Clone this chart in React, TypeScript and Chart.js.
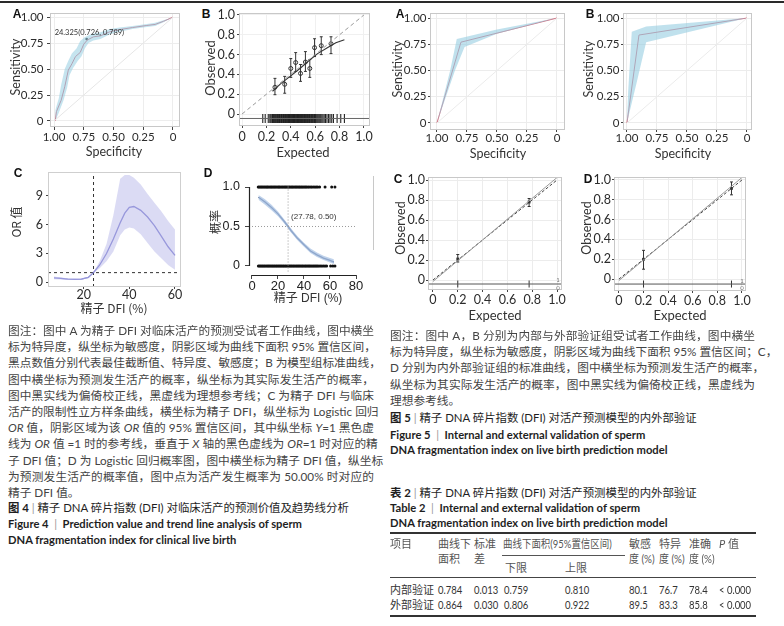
import React, { useEffect, useRef } from "react";
import { Chart, registerables } from "chart.js";

Chart.register(...registerables);

// ---------------- DATA ----------------
// Fig 4A ROC (specificity, sensitivity)
const roc4Spec = [0.99, 0.98, 0.94, 0.91, 0.88, 0.85, 0.82, 0.78, 0.75, 0.72, 0.67, 0.61, 0.53, 0.45, 0.34, 0.22, 0.15, 0.08, 0.0];
const roc4Sens = [0.0, 0.09, 0.2, 0.33, 0.49, 0.55, 0.62, 0.66, 0.74, 0.78, 0.81, 0.82, 0.86, 0.88, 0.9, 0.92, 0.93, 0.96, 1.0];
const roc4UpSpec = [0.99, 0.99, 0.96, 0.94, 0.91, 0.88, 0.85, 0.81, 0.78, 0.74, 0.68, 0.61, 0.53, 0.45, 0.34, 0.22, 0.15, 0.08, 0.0];
const roc4UpSens = [0.0, 0.1, 0.22, 0.35, 0.5, 0.58, 0.65, 0.7, 0.77, 0.81, 0.84, 0.855, 0.885, 0.9, 0.915, 0.935, 0.945, 0.97, 1.0];
const roc4LoSpec = [0.99, 0.96, 0.92, 0.89, 0.87, 0.84, 0.8, 0.77, 0.74, 0.71, 0.67, 0.61, 0.53, 0.45, 0.34, 0.22, 0.15, 0.08, 0.0];
const roc4LoSens = [0.0, 0.08, 0.2, 0.32, 0.44, 0.51, 0.58, 0.62, 0.7, 0.75, 0.775, 0.79, 0.835, 0.86, 0.885, 0.905, 0.915, 0.95, 1.0];
const roc4CutSpec = [0.726];
const roc4CutSens = [0.789];
const roc4CutLabel = "24.325(0.726, 0.789)";

// Fig 4B calibration
const calExp = [0.27, 0.35, 0.4, 0.44, 0.48, 0.52, 0.556, 0.595, 0.65, 0.73];
const calObs = [0.27, 0.3, 0.46, 0.52, 0.41, 0.525, 0.46, 0.67, 0.69, 0.71];
const calLo = [0.195, 0.21, 0.37, 0.43, 0.33, 0.43, 0.37, 0.58, 0.6, 0.61];
const calHi = [0.36, 0.38, 0.56, 0.62, 0.5, 0.63, 0.55, 0.76, 0.78, 0.78];
const biasX = [0.25, 0.32, 0.4, 0.48, 0.55, 0.62, 0.7, 0.77, 0.84];
const biasY = [0.23, 0.31, 0.385, 0.465, 0.54, 0.61, 0.67, 0.72, 0.75];
const calRug = [0.17, 0.19, 0.215, 0.228, 0.236, 0.245, 0.25, 0.257, 0.262, 0.268, 0.273, 0.279, 0.285, 0.29, 0.296, 0.301, 0.307, 0.312, 0.318, 0.324, 0.329, 0.335, 0.34, 0.346, 0.351, 0.356, 0.362, 0.367, 0.371, 0.376, 0.381, 0.386, 0.39, 0.395, 0.4, 0.404, 0.409, 0.413, 0.418, 0.422, 0.427, 0.431, 0.436, 0.441, 0.445, 0.45, 0.455, 0.459, 0.464, 0.468, 0.473, 0.478, 0.482, 0.487, 0.492, 0.497, 0.502, 0.507, 0.512, 0.517, 0.522, 0.527, 0.532, 0.538, 0.543, 0.548, 0.554, 0.559, 0.565, 0.571, 0.577, 0.583, 0.589, 0.595, 0.602, 0.608, 0.615, 0.622, 0.63, 0.638, 0.646, 0.655, 0.664, 0.674, 0.685, 0.697, 0.71, 0.722, 0.736, 0.75, 0.78, 0.81, 0.84];

// Fig 4C restricted cubic spline
const rcsX = [7, 10, 13, 16, 19, 22, 24.3, 27, 30, 33, 36, 38, 40, 42, 45, 48, 51, 54, 57, 60];
const rcsOR = [0.45, 0.4, 0.33, 0.3, 0.33, 0.5, 1.0, 1.8, 3.0, 4.5, 6.2, 7.2, 7.8, 7.9, 7.5, 6.8, 5.9, 4.8, 3.7, 2.8];
const rcsUp = [0.6, 0.5, 0.42, 0.38, 0.4, 0.58, 1.05, 2.2, 4.0, 7.0, 10.8, 11.2, 11.2, 10.9, 10.2, 9.2, 8.3, 7.4, 6.4, 5.5];
const rcsLo = [0.3, 0.28, 0.24, 0.22, 0.26, 0.42, 0.95, 1.45, 2.2, 3.2, 4.9, 5.5, 5.7, 5.6, 5.0, 4.1, 3.2, 2.5, 1.8, 1.3];
const rcsCut = 24.3;

// Fig 4D logistic probability
const logisX = [5, 10, 15, 20, 25, 27.78, 30, 35, 40, 45, 50, 55, 60, 63];
const logisP = [0.87, 0.81, 0.74, 0.66, 0.56, 0.5, 0.45, 0.35, 0.27, 0.19, 0.14, 0.1, 0.07, 0.05];
const logisUp = [0.9, 0.845, 0.775, 0.69, 0.585, 0.525, 0.475, 0.375, 0.295, 0.22, 0.17, 0.13, 0.1, 0.085];
const logisLo = [0.84, 0.775, 0.705, 0.63, 0.535, 0.475, 0.425, 0.325, 0.245, 0.165, 0.115, 0.075, 0.045, 0.025];
const dfiLive = [4.8, 5.6, 6.5, 7.3, 8.1, 9.0, 9.8, 10.7, 11.5, 12.2, 13.1, 14.0, 14.8, 15.6, 16.5, 17.3, 18.1, 19.0, 19.9, 20.7, 21.4, 22.3, 23.2, 24.0, 24.9, 25.7, 26.5, 27.4, 28.3, 29.1, 30.0, 30.8, 31.6, 32.5, 33.4, 34.2, 35.1, 36.0, 36.8, 37.7, 38.5, 39.4, 40.3, 41.2, 42.0, 43.1, 44.0, 45.2, 46.1, 47.3, 48.4, 49.5, 50.6, 52.0, 56.2, 61.3, 63.8];
const dfiNot = [4.9, 5.8, 6.6, 7.5, 8.3, 9.2, 10.0, 10.9, 11.8, 12.6, 13.4, 14.3, 15.2, 16.0, 16.9, 17.7, 18.6, 19.4, 20.3, 21.1, 22.0, 22.8, 23.7, 24.5, 25.4, 26.2, 27.1, 28.0, 28.8, 29.7, 30.5, 31.4, 32.2, 33.1, 34.0, 34.8, 35.7, 36.5, 37.4, 38.3, 39.1, 40.0, 40.9, 41.7, 42.6, 43.5, 44.3, 45.2, 46.1, 47.0, 47.9, 48.8, 49.7, 50.6, 51.6, 52.7, 53.8, 55.0, 56.2, 57.4, 60.5, 62.2, 63.8];
const logisMid = [27.78, 0.5];
const logisLabel = "(27.78, 0.50)";

// Fig 5A / 5B ROC
const roc5aSpec = [1.0, 0.8, 0.0];
const roc5aSens = [0.0, 0.77, 1.0];
const roc5aUpSpec = [1.0, 0.89, 0.835, 0.5, 0.0];
const roc5aUpSens = [0.0, 0.5, 0.8, 0.89, 1.0];
const roc5aLoSpec = [1.0, 0.85, 0.77, 0.5, 0.0];
const roc5aLoSens = [0.0, 0.5, 0.725, 0.85, 1.0];
const roc5bSpec = [1.0, 0.9, 0.0];
const roc5bSens = [0.0, 0.838, 1.0];
const roc5bUpSpec = [1.0, 0.99, 0.96, 0.84, 0.0];
const roc5bUpSens = [0.0, 0.3, 0.87, 0.92, 1.0];
const roc5bLoSpec = [1.0, 0.92, 0.84, 0.0];
const roc5bLoSens = [0.0, 0.38, 0.77, 1.0];

// Fig 5C / 5D calibration
const cal5cExp = [0.2, 0.775];
const cal5cObs = [0.21, 0.78];
const cal5cLo = [0.18, 0.735];
const cal5cHi = [0.255, 0.815];
const cal5dExp = [0.2, 0.915];
const cal5dObs = [0.2, 0.915];
const cal5dLo = [0.1, 0.85];
const cal5dHi = [0.29, 0.98];
const apparentX = [0.0, 1.0];
const apparentY = [-0.015, 1.025];
const idealX = [0.0, 1.0];
const idealY = [0.0, 1.0];

// ticks
const rocTicks = [0, 0.25, 0.5, 0.75, 1];
const calTicks = [0, 0.2, 0.4, 0.6, 0.8, 1.0];
const rcsXTicks = [20, 40, 60];
const rcsYTicks = [0, 3, 6, 9];
const logisXTicks = [0, 20, 40, 60, 80];
const logisYTicks = [0, 0.5, 1];

// ---------------- HELPERS ----------------
const LAT = "Lato, 'Noto Sans CJK SC', sans-serif";
const CJK = "'Noto Sans CJK SC', Lato, sans-serif";
const ARIAL = "'Liberation Sans', Arial, 'Noto Sans CJK SC', sans-serif";

type Box = { cx: number; cy: number; cw: number; ch: number; L: number; T: number; R: number; B: number };
type AxisSpec = {
  min: number; max: number; ticks: number[]; fmt: (v: number) => string; reverse?: boolean;
  size: number; family?: string; tl: number; pad: number; grid?: string | null; color?: string;
};

const fmt2 = (v: number) => (v === 0 ? "0" : v.toFixed(2));
const fmt1 = (v: number) => (v === 0 ? "0" : v.toFixed(1));
const fmt0 = (v: number) => String(v);

function axes(box: Box, x: AxisSpec, y: AxisSpec) {
  const mk = (a: AxisSpec, horiz: boolean) => ({
    type: "linear",
    min: a.min,
    max: a.max,
    reverse: !!a.reverse,
    afterBuildTicks: (s: any) => {
      s.ticks = a.ticks.map((v) => ({ value: v }));
    },
    afterFit: (s: any) => {
      if (horiz) s.height = box.cy + box.ch - box.B;
      else s.width = box.L - box.cx;
    },
    ticks: {
      autoSkip: false,
      maxRotation: 0,
      minRotation: 0,
      padding: a.pad,
      color: a.color || "#2b2b2b",
      font: { size: a.size, family: a.family || LAT, lineHeight: 1 },
      callback: (v: any) => a.fmt(Number(v)),
    },
    grid: {
      display: true,
      drawOnChartArea: !!a.grid,
      color: a.grid || "rgba(0,0,0,0)",
      tickColor: "#444",
      tickLength: a.tl,
      drawTicks: a.tl > 0,
      lineWidth: 1,
    },
    border: { display: false },
  });
  return { x: mk(x, true), y: mk(y, false) };
}

function baseOpts(box: Box, scales: any) {
  return {
    responsive: false,
    maintainAspectRatio: false,
    animation: false,
    events: [],
    layout: { padding: { left: 0, top: box.T - box.cy, right: box.cx + box.cw - box.R, bottom: 0 } },
    plugins: { legend: { display: false }, tooltip: { enabled: false }, title: { display: false } },
    scales,
    elements: { point: { radius: 0 }, line: { tension: 0 } },
  };
}

const pts = (xs: number[], ys: (number | null)[]) => xs.map((x, i) => ({ x, y: ys[i] }));

function lineDs(data: any[], color: string, width = 1, dash: number[] = [], extra: any = {}) {
  return { type: "line", data, borderColor: color, borderWidth: width, borderDash: dash, pointRadius: 0, fill: false, tension: 0, ...extra };
}

function bandDs(upper: any[], lower: any[], color: string) {
  return [
    { type: "line", data: upper, borderWidth: 0, borderColor: "rgba(0,0,0,0)", pointRadius: 0, fill: false },
    { type: "line", data: lower, borderWidth: 0, borderColor: "rgba(0,0,0,0)", backgroundColor: color, pointRadius: 0, fill: "-1" },
  ];
}

function errorBars(xs: number[], lo: number[], hi: number[], cap: number) {
  const d: any[] = [];
  xs.forEach((x, i) => {
    d.push({ x, y: lo[i] }, { x, y: hi[i] }, { x, y: null });
    d.push({ x: x - cap, y: lo[i] }, { x: x + cap, y: lo[i] }, { x, y: null });
    d.push({ x: x - cap, y: hi[i] }, { x: x + cap, y: hi[i] }, { x, y: null });
  });
  return d;
}

const framePlugin = (color: string) => ({
  id: "frame",
  afterDatasetsDraw(chart: any) {
    const { ctx, chartArea: a } = chart;
    ctx.save();
    ctx.strokeStyle = color;
    ctx.lineWidth = 1;
    ctx.strokeRect(a.left + 0.5, a.top + 0.5, a.right - a.left - 1, a.bottom - a.top - 1);
    ctx.restore();
  },
});

function ChartPanel({ box, make }: { box: Box; make: (b: Box) => any }) {
  const ref = useRef<HTMLCanvasElement>(null);
  useEffect(() => {
    const chart = new Chart(ref.current as HTMLCanvasElement, make(box));
    return () => chart.destroy();
  }, []);
  return (
    <canvas
      ref={ref}
      width={box.cw}
      height={box.ch}
      style={{ position: "absolute", left: box.cx, top: box.cy, width: box.cw, height: box.ch }}
    />
  );
}

// ---------------- CHART CONFIGS ----------------
const box4A: Box = { cx: 20, cy: 0, cw: 170, ch: 150, L: 50, T: 13, R: 180, B: 127 };
function make4A(box: Box) {
  const scales = axes(
    box,
    { min: -0.059, max: 1.034, reverse: true, ticks: rocTicks, fmt: fmt2, size: 11.5, tl: 3, pad: 1.5, grid: "#ededed" },
    { min: -0.058, max: 1.04, ticks: rocTicks, fmt: fmt2, size: 11.5, tl: 3, pad: 3.5, grid: "#ededed" }
  );
  const up = pts(roc4UpSpec, roc4UpSens);
  const lo = pts(roc4LoSpec, roc4LoSens);
  return {
    type: "line",
    data: {
      datasets: [
        lineDs(pts([1, 0], [0, 1]), "#e6e6e6", 1),
        ...bandDs(up, lo, "rgba(150,205,225,0.55)"),
        lineDs(pts(roc4Spec, roc4Sens), "#d46a7a", 1),
        lineDs(pts(roc4CutSpec, roc4CutSens), "#222", 0, [], { showLine: false, pointRadius: 1.3, pointBackgroundColor: "#222", pointBorderWidth: 0 }),
      ],
    },
    options: baseOpts(box, scales),
    plugins: [
      framePlugin("#c8c8c8"),
      {
        id: "cutLabel",
        afterDatasetsDraw(chart: any) {
          const { ctx, scales: s } = chart;
          const px = s.x.getPixelForValue(roc4CutSpec[0]);
          const py = s.y.getPixelForValue(roc4CutSens[0]);
          ctx.save();
          ctx.font = "7.5px " + LAT;
          ctx.fillStyle = "#333";
          ctx.textBaseline = "middle";
          ctx.fillText(roc4CutLabel, px - 32, py - 6);
          ctx.restore();
        },
      },
    ],
  };
}

const box4B: Box = { cx: 212, cy: 0, cw: 168, ch: 148, L: 239, T: 13, R: 370, B: 126 };
function make4B(box: Box) {
  const scales = axes(
    box,
    { min: -0.025, max: 1.05, ticks: calTicks, fmt: fmt1, size: 12.5, tl: 2, pad: 3, grid: "#f0f0f0" },
    { min: -0.121, max: 1.02, ticks: calTicks, fmt: fmt1, size: 12.5, tl: 2, pad: 2, grid: "#f0f0f0" }
  );
  return {
    type: "line",
    data: {
      datasets: [
        lineDs(pts(idealX, idealY), "#999", 1, [4, 3]),
        lineDs(pts(biasX, biasY), "#333", 1.1),
        lineDs(errorBars(calExp, calLo, calHi, 0.012), "#333", 1),
        lineDs(pts(calExp, calObs), "#333", 0, [], { showLine: false, pointRadius: 2, pointBackgroundColor: "rgba(0,0,0,0)", pointBorderColor: "#333", pointBorderWidth: 1 }),
        lineDs(pts([-0.025, 1.05], [-0.045, -0.045]), "#666", 1),
        lineDs(calRug.map((x) => ({ x, y: -0.045 })), "#222", 0, [], {
          showLine: false, pointStyle: "line", pointRotation: 90, pointRadius: 4.5, pointBorderColor: "#222", pointBorderWidth: 1.1,
        }),
      ],
    },
    options: baseOpts(box, scales),
    plugins: [framePlugin("#c8c8c8")],
  };
}

const box4C: Box = { cx: 20, cy: 160, cw: 170, ch: 150, L: 48, T: 172, R: 181, B: 287 };
function make4C(box: Box) {
  const scales = axes(
    box,
    { min: 4.35, max: 62.65, ticks: rcsXTicks, fmt: fmt0, size: 12.5, tl: 2, pad: 0 },
    { min: -0.5, max: 11.5, ticks: rcsYTicks, fmt: fmt0, size: 12.5, tl: 2, pad: 3 }
  );
  return {
    type: "line",
    data: {
      datasets: [
        ...bandDs(pts(rcsX, rcsUp), pts(rcsX, rcsLo), "rgba(190,190,235,0.55)"),
        lineDs(pts(rcsX, rcsOR), "#6b6bc9", 1.3),
        lineDs(pts([4.35, 62.65], [1, 1]), "#333", 1, [3, 3]),
        lineDs(pts([rcsCut, rcsCut], [-0.5, 11.5]), "#333", 1, [3, 3]),
      ],
    },
    options: baseOpts(box, scales),
    plugins: [framePlugin("#cfcfcf")],
  };
}

const box4D: Box = { cx: 212, cy: 165, cw: 158, ch: 135, L: 249, T: 187, R: 356, B: 275 };
function make4D(box: Box) {
  const scales = axes(
    box,
    { min: -2.3, max: 80, ticks: logisXTicks, fmt: fmt0, size: 13, family: ARIAL, tl: 4, pad: 0.5, color: "#222" },
    { min: -0.114, max: 1.0, ticks: logisYTicks, fmt: fmt1, size: 12.5, family: ARIAL, tl: 4, pad: 5, color: "#222" }
  );
  return {
    type: "line",
    data: {
      datasets: [
        lineDs(pts([logisMid[0], logisMid[0]], [-0.07, 1.03]), "#9a9a9a", 1, [1, 2], { clip: false }),
        lineDs(pts([-2.3, 80], [logisMid[1], logisMid[1]]), "#9a9a9a", 1, [1, 2]),
        ...bandDs(pts(logisX, logisUp), pts(logisX, logisLo), "rgba(170,195,228,0.75)"),
        lineDs(pts(logisX, logisP), "#3d5282", 1.4),
        lineDs(dfiLive.map((x) => ({ x, y: 1 })), "#111", 0, [], { showLine: false, pointRadius: 1.5, pointBackgroundColor: "#111", pointBorderWidth: 0, clip: false }),
        lineDs(dfiNot.map((x) => ({ x, y: 0 })), "#111", 0, [], { showLine: false, pointRadius: 1.5, pointBackgroundColor: "#111", pointBorderWidth: 0, clip: false }),
      ],
    },
    options: baseOpts(box, scales),
    plugins: [
      {
        id: "prismAxes",
        afterDatasetsDraw(chart: any) {
          const { ctx, scales: s, chartArea: a } = chart;
          ctx.save();
          ctx.strokeStyle = "#222";
          ctx.lineWidth = 1.2;
          ctx.beginPath();
          ctx.moveTo(a.left + 0.5, s.y.getPixelForValue(0));
          ctx.lineTo(a.left + 0.5, s.y.getPixelForValue(1));
          ctx.moveTo(s.x.getPixelForValue(0), a.bottom + 0.5);
          ctx.lineTo(s.x.getPixelForValue(80), a.bottom + 0.5);
          ctx.stroke();
          ctx.font = "8px " + ARIAL;
          ctx.fillStyle = "#333";
          ctx.textBaseline = "middle";
          ctx.fillText(logisLabel, s.x.getPixelForValue(logisMid[0]) + 3, s.y.getPixelForValue(logisMid[1]) - 10);
          ctx.restore();
        },
      },
    ],
  };
}

function makeRoc5(box: Box, spec: number[], sens: number[], upS: number[], upY: number[], loS: number[], loY: number[], xmin: number, xmax: number) {
  const scales = axes(
    box,
    { min: xmin, max: xmax, reverse: true, ticks: rocTicks, fmt: fmt2, size: 11.5, tl: 2, pad: 0.5, grid: "#ececec" },
    { min: -0.067, max: 1.048, ticks: rocTicks, fmt: fmt2, size: 11.5, tl: 2, pad: 1.5, grid: "#ececec" }
  );
  return {
    type: "line",
    data: {
      datasets: [
        lineDs(pts([1, 0], [0, 1]), "#ebebeb", 1),
        ...bandDs(pts(upS, upY), pts(loS, loY), "rgba(150,205,225,0.6)"),
        lineDs(pts(spec, sens), "#d46a7a", 1),
      ],
    },
    options: baseOpts(box, scales),
    plugins: [framePlugin("#c8c8c8")],
  };
}

const box5A: Box = { cx: 398, cy: 0, cw: 177, ch: 150, L: 430, T: 13, R: 565, B: 130 };
const box5B: Box = { cx: 592, cy: 0, cw: 171, ch: 150, L: 623, T: 13, R: 752, B: 130 };

function makeCal5(box: Box, ex: number[], ob: number[], lo: number[], hi: number[], xmin: number, xmax: number, ymin: number, rugY: number) {
  const scales = axes(
    box,
    { min: xmin, max: xmax, ticks: calTicks, fmt: fmt1, size: 12.5, tl: 2, pad: 1.5, grid: "#ececec" },
    { min: ymin, max: 1.03, ticks: calTicks, fmt: fmt1, size: 12.5, tl: 2, pad: 1, grid: "#ececec" }
  );
  return {
    type: "line",
    data: {
      datasets: [
        lineDs(pts(apparentX, apparentY), "#9a9a9a", 1),
        lineDs(pts(idealX, idealY), "#444", 1, [3, 2]),
        lineDs(errorBars(ex, lo, hi, 0.012), "#333", 1),
        lineDs(pts(ex, ob), "#333", 0, [], { showLine: false, pointRadius: 2, pointStyle: "rect", pointBackgroundColor: "#333", pointBorderWidth: 0 }),
        lineDs(pts([xmin, xmax], [rugY, rugY]), "#555", 1),
        lineDs(ex.map((x) => ({ x, y: rugY })), "#333", 0, [], {
          showLine: false, pointStyle: "line", pointRotation: 90, pointRadius: 3.5, pointBorderColor: "#333", pointBorderWidth: 1,
        }),
      ],
    },
    options: baseOpts(box, scales),
    plugins: [framePlugin("#c8c8c8")],
  };
}

const box5C: Box = { cx: 398, cy: 165, cw: 174, ch: 145, L: 428, T: 177, R: 562, B: 290 };
const box5D: Box = { cx: 588, cy: 165, cw: 168, ch: 145, L: 614, T: 177, R: 746, B: 291 };

// ---------------- TEXT ----------------
type TxtProps = {
  x: number; y: number; children: React.ReactNode; size?: number; family?: string; weight?: number;
  color?: string; anchor?: "middle" | "start"; rotate?: boolean; sx?: number; style?: React.CSSProperties;
};
function Txt({ x, y, children, size = 12, family = LAT, weight = 400, color = "#333", anchor = "middle", rotate = false, sx = 1, style }: TxtProps) {
  const transform = rotate
    ? "translate(-50%,-50%) rotate(-90deg)"
    : anchor === "middle"
    ? "translate(-50%,-50%)"
    : `translateY(-50%) scaleX(${sx})`;
  return (
    <div
      style={{
        position: "absolute", left: x, top: y, transform, transformOrigin: anchor === "start" && !rotate ? "left center" : "center",
        fontSize: size, fontFamily: family, fontWeight: weight, color, lineHeight: 1, whiteSpace: "nowrap", ...style,
      }}
    >
      {children}
    </div>
  );
}

function rich(text: string) {
  return text.split("*").map((seg, i) => (i % 2 === 1 ? <i key={i}>{seg}</i> : <span key={i}>{seg}</span>));
}

function CapLine({ x, y, w, text, justify = true, size = 11.7, color = "#444", weight = 400 }: { x: number; y: number; w: number; text: string; justify?: boolean; size?: number; color?: string; weight?: number }) {
  return (
    <div
      style={{
        position: "absolute", left: x, top: y - 8, width: w, height: 16, lineHeight: "16px", fontSize: size,
        fontFamily: LAT, color, fontWeight: weight, whiteSpace: "nowrap",
        textAlign: justify ? "justify" : "left", textAlignLast: justify ? "justify" : "left",
      }}
    >
      {rich(text)}
    </div>
  );
}

function TitleLine({ x, y, lead, text }: { x: number; y: number; lead: string; text: string }) {
  return (
    <div style={{ position: "absolute", left: x, top: y - 8, fontSize: 11.4, lineHeight: "16px", fontFamily: LAT, color: "#1e1e1e", whiteSpace: "nowrap" }}>
      <b>{lead}</b> <span style={{ color: "#999" }}>|</span> {text}
    </div>
  );
}

function EnLine({ x, y, lead, text }: { x: number; y: number; lead?: string; text: string }) {
  return (
    <div style={{ position: "absolute", left: x, top: y - 8, fontSize: 11.2, lineHeight: "16px", fontFamily: LAT, fontWeight: 700, color: "#1e1e1e", whiteSpace: "nowrap" }}>
      {lead ? (
        <>
          {lead} <span style={{ color: "#999", fontWeight: 400 }}>&nbsp;|&nbsp;</span>{" "}
        </>
      ) : null}
      {text}
    </div>
  );
}

const cap4Lines = [
  "图注：图中 A 为精子 DFI 对临床活产的预测受试者工作曲线，图中横坐",
  "标为特异度，纵坐标为敏感度，阴影区域为曲线下面积 95% 置信区间，",
  "黑点数值分别代表最佳截断值、特异度、敏感度；B 为模型组标准曲线，",
  "图中横坐标为预测发生活产的概率，纵坐标为其实际发生活产的概率，",
  "图中黑实线为偏倚校正线，黑虚线为理想参考线；C 为精子 DFI 与临床",
  "活产的限制性立方样条曲线，横坐标为精子 DFI，纵坐标为 Logistic 回归",
  "*OR* 值，阴影区域为该 *OR* 值的 95% 置信区间，其中纵坐标 *Y*=1 黑色虚",
  "线为 *OR* 值 =1 时的参考线，垂直于 *X* 轴的黑色虚线为 *OR*=1 时对应的精",
  "子 DFI 值；D 为 Logistic 回归概率图，图中横坐标为精子 DFI 值，纵坐标",
  "为预测发生活产的概率值，图中点为活产发生概率为 50.00% 时对应的",
  "精子 DFI 值。",
];
const cap5Lines = [
  "图注：图中 A，B 分别为内部与外部验证组受试者工作曲线，图中横坐",
  "标为特异度，纵坐标为敏感度，阴影区域为曲线下面积 95% 置信区间；C，",
  "D 分别为内外部验证组的标准曲线，图中横坐标为预测发生活产的概率，",
  "纵坐标为其实际发生活产的概率，图中黑实线为偏倚校正线，黑虚线为",
  "理想参考线。",
];

const tblHead1 = ["项目", "曲线下", "标准", "曲线下面积(95%置信区间)", "敏感", "特异", "准确", "P 值"];
const tblHead2 = ["", "面积", "差", "", "度 (%)", "度 (%)", "度 (%)", ""];
const tblSub = ["下限", "上限"];
const tblRows = [
  ["内部验证", "0.784", "0.013", "0.759", "0.810", "80.1", "76.7", "78.4", "< 0.000"],
  ["外部验证", "0.864", "0.030", "0.806", "0.922", "89.5", "83.3", "85.8", "< 0.000"],
];

function Rule({ x, y, w, h, color = "#333" }: { x: number; y: number; w: number; h: number; color?: string }) {
  return <div style={{ position: "absolute", left: x, top: y, width: w, height: h, background: color }} />;
}

export default function App() {
  const hCols = [390, 438, 474, 503, 629, 659, 689, 719];
  const rCols = [390, 438, 474, 504, 565, 629, 659, 689, 719];
  return (
    <div style={{ position: "absolute", left: 0, top: 0, width: 784, height: 626, background: "#fff", overflow: "hidden" }}>
      <Rule x={0} y={1} w={784} h={2} color="#2a2a2a" />
      <Rule x={373} y={176} w={1} h={74} color="#c8c8c8" />

      <ChartPanel box={box4A} make={make4A} />
      <ChartPanel box={box4B} make={make4B} />
      <ChartPanel box={box4C} make={make4C} />
      <ChartPanel box={box4D} make={make4D} />
      <ChartPanel box={box5A} make={(b) => makeRoc5(b, roc5aSpec, roc5aSens, roc5aUpSpec, roc5aUpSens, roc5aLoSpec, roc5aLoSens, -0.067, 1.058)} />
      <ChartPanel box={box5B} make={(b) => makeRoc5(b, roc5bSpec, roc5bSens, roc5bUpSpec, roc5bUpSens, roc5bLoSpec, roc5bLoSens, -0.042, 1.033)} />
      <ChartPanel box={box5C} make={(b) => makeCal5(b, cal5cExp, cal5cObs, cal5cLo, cal5cHi, -0.04, 1.04, -0.1, -0.04)} />
      <ChartPanel box={box5D} make={(b) => makeCal5(b, cal5dExp, cal5dObs, cal5dLo, cal5dHi, -0.04, 1.033, -0.12, -0.05)} />

      {/* Fig 4 panel texts */}
      <Txt x={17} y={14} size={12} family={ARIAL} weight={700} color="#111">A</Txt>
      <Txt x={16} y={67} rotate size={12.5}>Sensitivity</Txt>
      <Txt x={114} y={152} size={12.5}>Specificity</Txt>
      <Txt x={206} y={14} size={12} family={ARIAL} weight={700} color="#111">B</Txt>
      <Txt x={210} y={68} rotate size={13}>Observed</Txt>
      <Txt x={303} y={152} size={13}>Expected</Txt>
      <Txt x={18} y={173} size={12} family={ARIAL} weight={700} color="#111">C</Txt>
      <Txt x={16} y={222} rotate size={12} family={CJK}>OR 值</Txt>
      <Txt x={114} y={308} size={12} family={CJK}>精子 DFI (%)</Txt>
      <Txt x={208} y={173} size={12} family={ARIAL} weight={700} color="#111">D</Txt>
      <Txt x={215} y={222} rotate size={12} family={CJK}>概率</Txt>
      <Txt x={308} y={298} size={12} family={ARIAL}>精子 DFI (%)</Txt>

      {/* Fig 5 panel texts */}
      <Txt x={400} y={14} size={12} family={ARIAL} weight={700} color="#111">A</Txt>
      <Txt x={398} y={69} rotate size={12.5}>Sensitivity</Txt>
      <Txt x={498} y={154} size={12.5}>Specificity</Txt>
      <Txt x={590} y={14} size={12} family={ARIAL} weight={700} color="#111">B</Txt>
      <Txt x={589} y={69} rotate size={12.5}>Sensitivity</Txt>
      <Txt x={683} y={154} size={12.5}>Specificity</Txt>
      <Txt x={398} y={179} size={12} family={ARIAL} weight={700} color="#111">C</Txt>
      <Txt x={401} y={228} rotate size={12.5}>Observed</Txt>
      <Txt x={495} y={315} size={13}>Expected</Txt>
      <Txt x={588} y={179} size={12} family={ARIAL} weight={700} color="#111">D</Txt>
      <Txt x={587} y={228} rotate size={12.5}>Observed</Txt>
      <Txt x={680} y={315} size={13}>Expected</Txt>
      <Txt x={558} y={280} size={6} color="#777">1</Txt>
      <Txt x={558} y={288} size={6} color="#777">0</Txt>
      <Txt x={742} y={281} size={6} color="#777">1</Txt>
      <Txt x={742} y={288} size={6} color="#777">0</Txt>

      {/* Fig 4 caption */}
      {cap4Lines.map((t, i) => (
        <CapLine key={"c4" + i} x={8} y={330 + i * 16.2} w={366} text={t} justify={i < cap4Lines.length - 1} />
      ))}
      <TitleLine x={8} y={508} lead="图 4" text="精子 DNA 碎片指数 (DFI) 对临床活产的预测价值及趋势线分析" />
      <EnLine x={8} y={524} lead="Figure 4" text="Prediction value and trend line analysis of sperm" />
      <EnLine x={8} y={540} text="DNA fragmentation index for clinical live birth" />

      {/* Fig 5 caption */}
      {cap5Lines.map((t, i) => (
        <CapLine key={"c5" + i} x={390} y={335 + i * 16.2} w={365} text={t} justify={i < cap5Lines.length - 1} />
      ))}
      <TitleLine x={390} y={418} lead="图 5" text="精子 DNA 碎片指数 (DFI) 对活产预测模型的内外部验证" />
      <EnLine x={390} y={435} lead="Figure 5" text="Internal and external validation of sperm" />
      <EnLine x={390} y={450} text="DNA fragmentation index on live birth prediction model" />

      {/* Table 2 */}
      <TitleLine x={390} y={493} lead="表 2" text="精子 DNA 碎片指数 (DFI) 对活产预测模型的内外部验证" />
      <EnLine x={390} y={508} lead="Table 2" text="Internal and external validation of sperm" />
      <EnLine x={390} y={523} text="DNA fragmentation index on live birth prediction model" />
      <Rule x={390} y={532} w={366} h={1.5} color="#333" />
      {tblHead1.map((t, i) => (
        <Txt key={"h1" + i} x={hCols[i]} y={543} anchor="start" size={11} color="#555" sx={i === 3 ? 0.86 : 1}>
          {t === "P 值" ? (<><i>P</i> 值</>) : t}
        </Txt>
      ))}
      {tblHead2.map((t, i) => (t ? (
        <Txt key={"h2" + i} x={hCols[i]} y={558} anchor="start" size={11} color="#555" sx={i >= 4 ? 0.9 : 1}>{t}</Txt>
      ) : null))}
      <Rule x={502} y={555} w={123} h={1} color="#555" />
      <Txt x={505} y={567} anchor="start" size={11} color="#555">{tblSub[0]}</Txt>
      <Txt x={565} y={567} anchor="start" size={11} color="#555">{tblSub[1]}</Txt>
      <Rule x={390} y={577} w={366} h={1} color="#444" />
      {tblRows.map((row, r) =>
        row.map((c, i) => (
          <Txt key={"r" + r + "-" + i} x={rCols[i]} y={589 + r * 15} anchor="start" size={11} sx={i === 0 ? 1 : 0.86} color="#333">{c}</Txt>
        ))
      )}
      <Rule x={390} y={615} w={366} h={1.5} color="#333" />
    </div>
  );
}
